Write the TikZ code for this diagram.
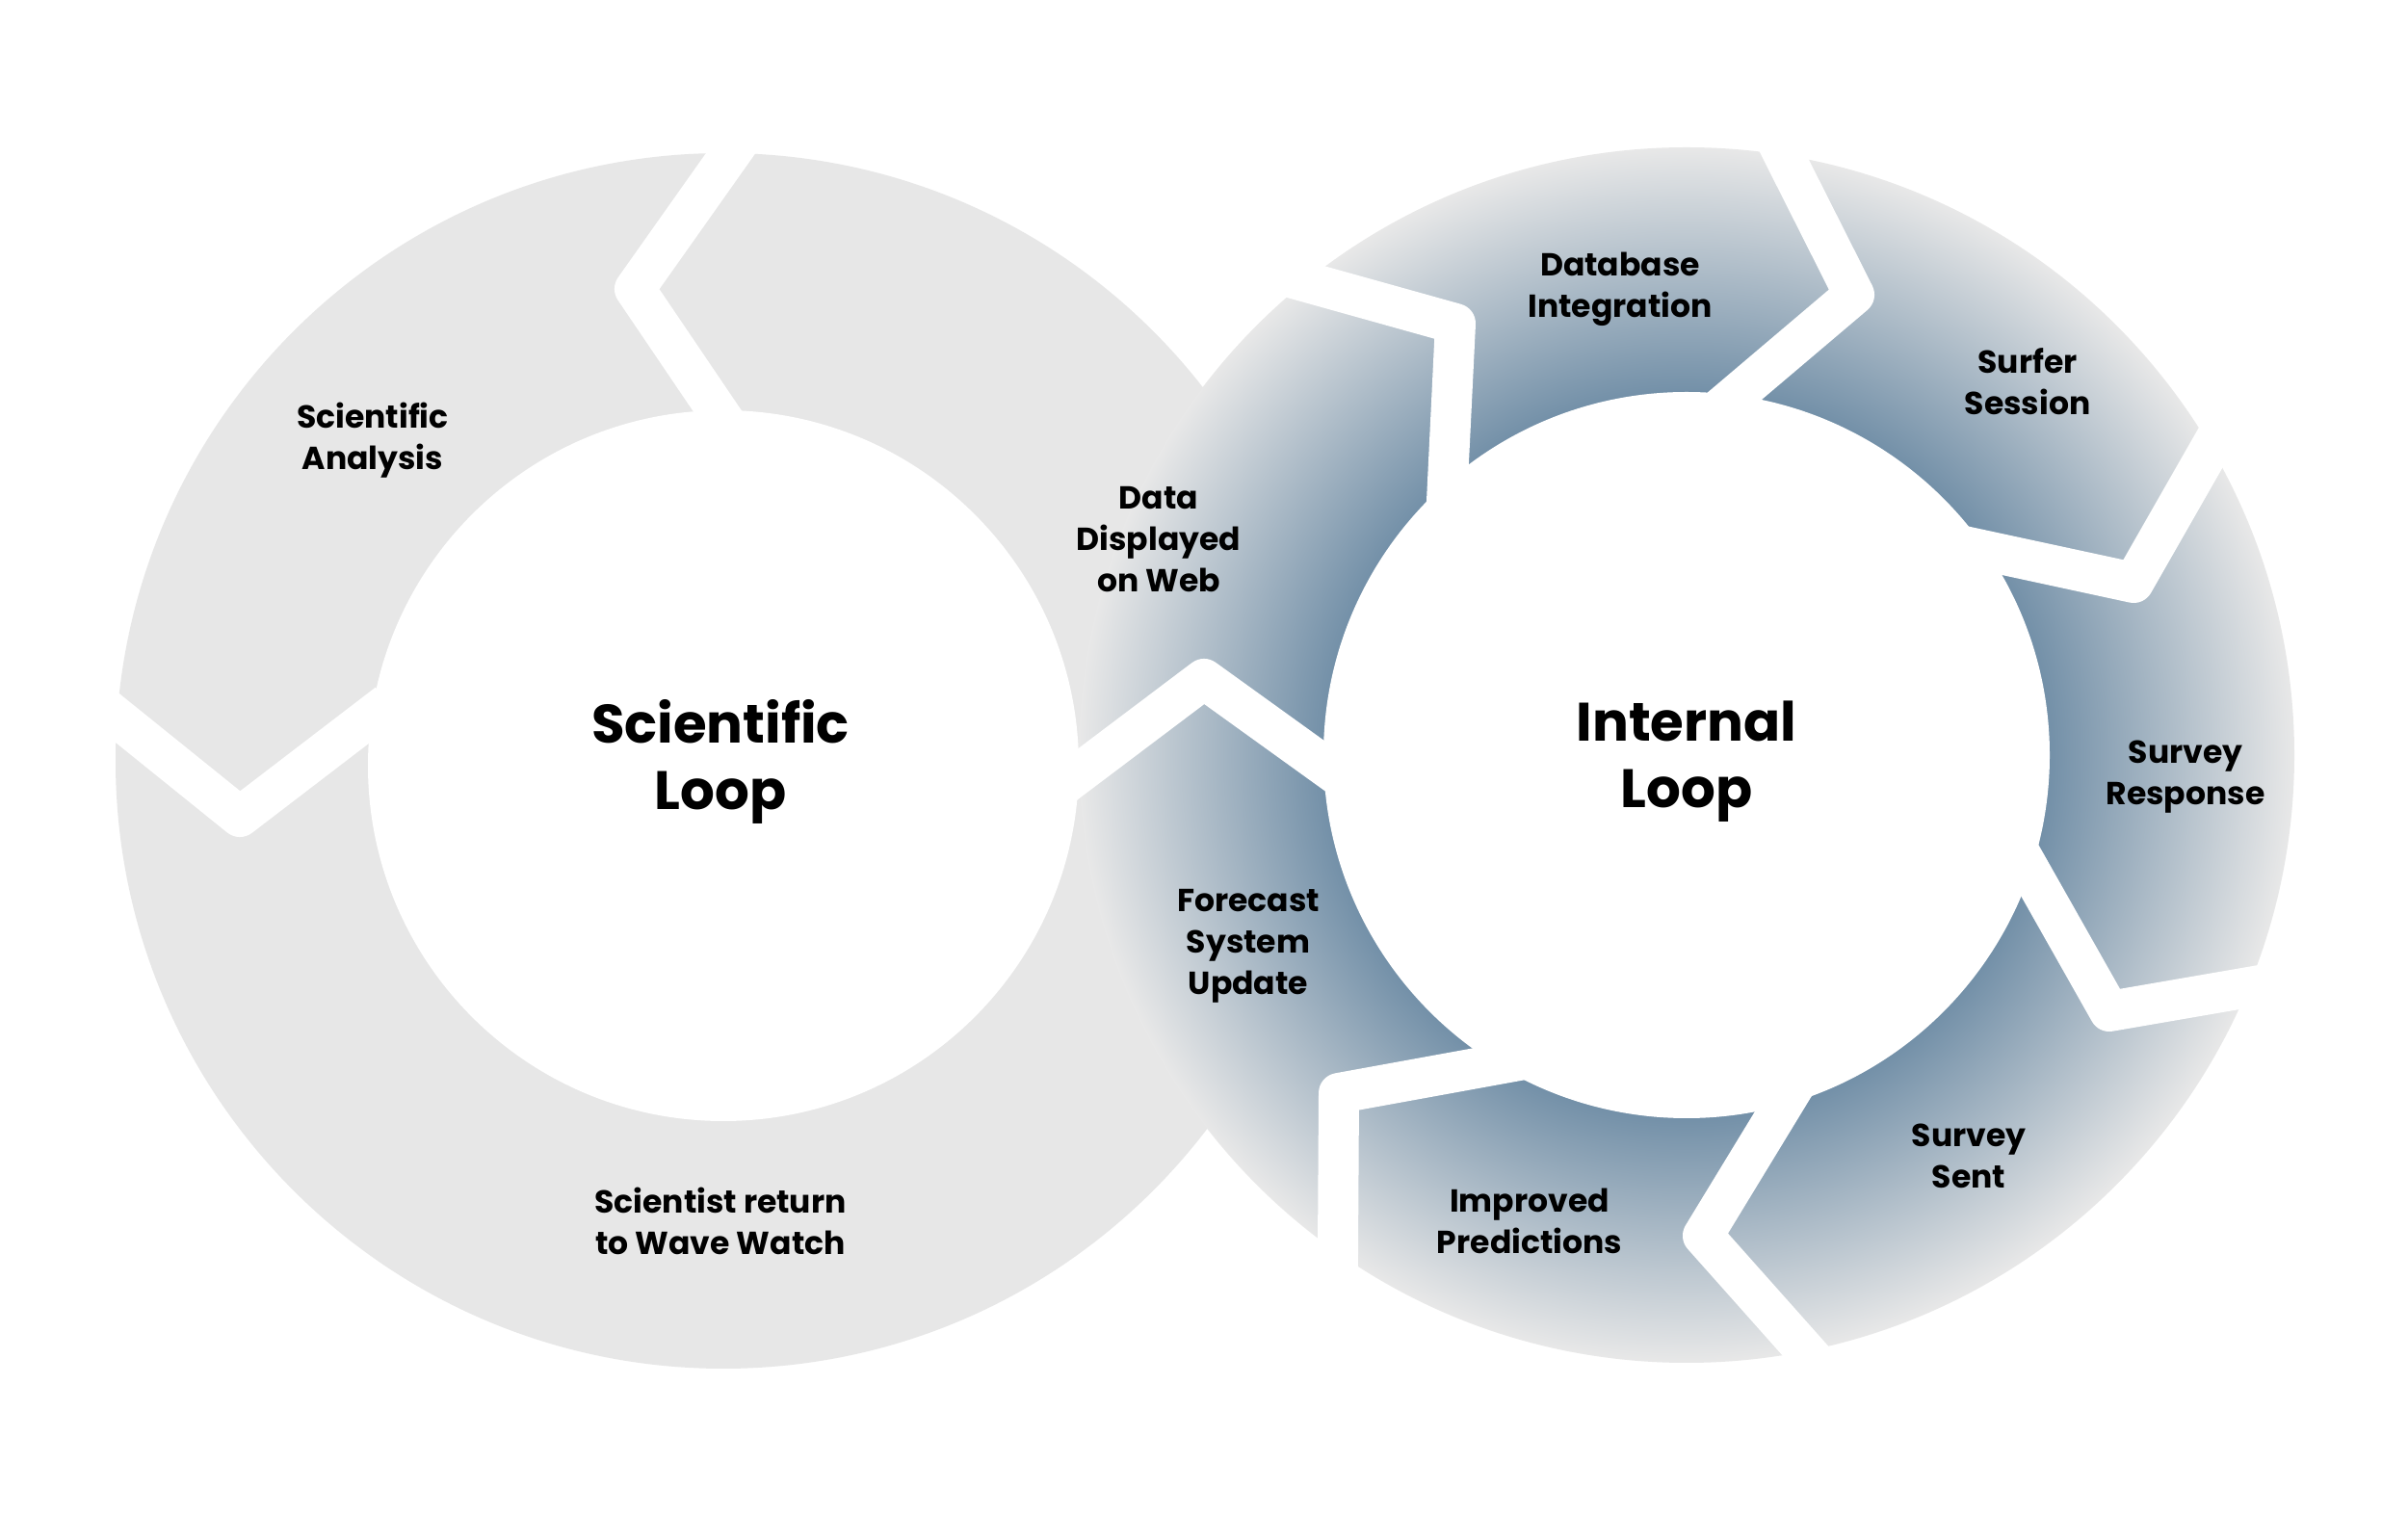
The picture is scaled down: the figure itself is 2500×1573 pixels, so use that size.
\documentclass[tikz,border=0pt]{standalone}
\usepackage{fontspec}
\setmainfont{Poppins}
\usetikzlibrary{calc}
\definecolor{ringgray}{HTML}{E7E7E7}
\definecolor{ringdark}{HTML}{7390A8}
\definecolor{ringlight}{HTML}{E8E8E8}
\pgfdeclareradialshading{ringshade}{\pgfpoint{0bp}{0bp}}{color(0bp)=(ringdark); color(14.9bp)=(ringdark); color(25bp)=(ringlight); color(50bp)=(ringlight)}
\tikzset{
  gapline/.style={draw=white, line width=4.2mm, line join=round},
  lab/.style={font=\fontsize{9.4}{12.2}\selectfont\bfseries, align=center, text=black, inner sep=0pt},
  biglab/.style={font=\fontsize{16}{19.6}\selectfont\bfseries, align=center, text=black, inner sep=0pt}
}
\newcommand{\gapV}[3]{\draw[gapline] ($#2!1.2!#1$) -- #2 -- ($#2!1.2!#3$);}
\begin{document}
\begin{tikzpicture}[x=0.1mm, y=-0.1mm]
\fill[white] (0,0) rectangle (2500,1573);
\useasboundingbox (0,0) rectangle (2500,1573);
% left ring
\coordinate (cl) at (751,790);
\coordinate (clh) at (751,795);
\coordinate (cr) at (1751,784);
\fill[ringgray] (cl) circle (631);
\fill[white] (clh) circle (369);
\gapV{(758,160)}{(659,300)}{(745,427)}
\gapV{(120,744)}{(249,848)}{(377,750)}
% right ring
\shade[shading=ringshade] (cr) circle (631);
\fill[white] (cr) circle (377);
\gapV{(1124,800)}{(1250,705)}{(1375,795)}
\gapV{(1357,293)}{(1511,336)}{(1503,500)}
\gapV{(1853,163)}{(1925,306)}{(1800,412)}
\gapV{(2295,465)}{(2215,605)}{(2062,572)}
\gapV{(2335,1025)}{(2190,1050)}{(2108,905)}
\gapV{(1873,1401)}{(1768,1283)}{(1849,1150)}
\gapV{(1389,1300)}{(1390,1135)}{(1555,1105)}
% labels
\node[biglab] (sci) at (748,791) {Scientific\\Loop};
\node[biglab] (int) at (1751,791) {Internal\\Loop};
\node[lab] (ana) at (387,457) {Scientific\\Analysis};
\node[lab] (ret) at (748,1268) {Scientist return\\to Wave Watch};
\node[lab] (web) at (1203,560) {Data\\Displayed\\on Web};
\node[lab] (db) at (1682,300) {Database\\Integration};
\node[lab] (surf) at (2105,396) {Surfer\\Session};
\node[lab] (resp) at (2269,807) {Survey\\Response};
\node[lab] (sent) at (2044,1200) {Survey\\Sent};
\node[lab] (impr) at (1588,1268) {Improved\\Predictions};
\node[lab] (fcst) at (1296,982) {Forecast\\System\\Update};
\end{tikzpicture}
\end{document}
